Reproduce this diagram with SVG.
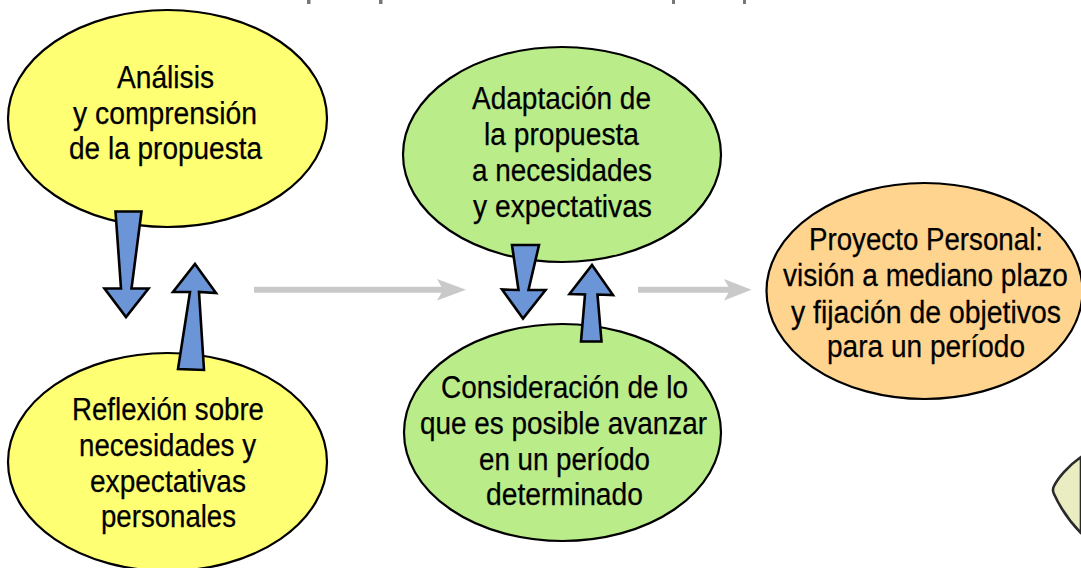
<svg xmlns="http://www.w3.org/2000/svg" width="1081" height="568" viewBox="0 0 1081 568">
<style>
.n{stroke:#000;stroke-width:2.2}
.y{fill:#ffff73}.g{fill:#bbec8a}.o{fill:#ffd48f}
.a{fill:#6b95d6;stroke:#000;stroke-width:2.6;stroke-linejoin:miter}
.s{fill:#c9c9ca}
.f{fill:#777}
text{font-family:"Liberation Sans",Arial,sans-serif;font-size:31px;fill:#000;stroke:#000;stroke-width:.25}
</style>
<rect width="1081" height="568" fill="#fff"/>
<g id="top-fragments">
<rect class="f" x="307" y="0" width="3.5" height="4"/>
<rect class="f" x="379" y="0" width="3.5" height="4"/>
<rect class="f" x="672" y="0" width="3" height="4"/>
<rect class="f" x="743" y="0" width="3" height="4"/>
</g>
<g id="corner-shape"><path d="M1081 457C1068 466 1058 478 1054 486Q1052 490 1054 494C1060 507 1070 522 1081 533Z" fill="#eaedc2" stroke="#2a2a2a" stroke-width="2.6"/></g>
<g id="node-analisis"><ellipse class="n y" cx="167.500" cy="118.500" rx="159.500" ry="108.500"/>
<text x="117" y="87.500" textLength="97" lengthAdjust="spacingAndGlyphs">Análisis</text>
<text x="73" y="123.500" textLength="184" lengthAdjust="spacingAndGlyphs">y comprensión</text>
<text x="69" y="159" textLength="193" lengthAdjust="spacingAndGlyphs">de la propuesta</text></g>
<g id="node-reflexion"><ellipse class="n y" cx="167.500" cy="462" rx="159.500" ry="109"/>
<text x="72" y="420" textLength="192" lengthAdjust="spacingAndGlyphs">Reflexión sobre</text>
<text x="79" y="456" textLength="177" lengthAdjust="spacingAndGlyphs">necesidades y</text>
<text x="90" y="492" textLength="156" lengthAdjust="spacingAndGlyphs">expectativas</text>
<text x="101" y="527" textLength="135" lengthAdjust="spacingAndGlyphs">personales</text></g>
<g id="node-adaptacion"><ellipse class="n g" cx="562" cy="154.500" rx="159" ry="107.500"/>
<text x="472" y="109" textLength="179" lengthAdjust="spacingAndGlyphs">Adaptación de</text>
<text x="484" y="145" textLength="155" lengthAdjust="spacingAndGlyphs">la propuesta</text>
<text x="472" y="181" textLength="180" lengthAdjust="spacingAndGlyphs">a necesidades</text>
<text x="473" y="217" textLength="179" lengthAdjust="spacingAndGlyphs">y expectativas</text></g>
<g id="node-consideracion"><ellipse class="n g" cx="562.500" cy="432.500" rx="158.500" ry="108.500"/>
<text x="441" y="398" textLength="247" lengthAdjust="spacingAndGlyphs">Consideración de lo</text>
<text x="420" y="434" textLength="287" lengthAdjust="spacingAndGlyphs">que es posible avanzar</text>
<text x="479" y="470" textLength="171" lengthAdjust="spacingAndGlyphs">en un período</text>
<text x="486" y="505" textLength="157" lengthAdjust="spacingAndGlyphs">determinado</text></g>
<g id="node-proyecto"><ellipse class="n o" cx="924.500" cy="291" rx="158" ry="108"/>
<text x="809" y="250" textLength="234" lengthAdjust="spacingAndGlyphs">Proyecto Personal:</text>
<text transform="translate(783 286) scale(.89 1)" textLength="320" lengthAdjust="spacingAndGlyphs">visión a mediano plazo</text>
<text transform="translate(791 322.500) scale(.89 1)" textLength="303.400" lengthAdjust="spacingAndGlyphs">y fijación de objetivos</text>
<text x="827" y="357" textLength="198" lengthAdjust="spacingAndGlyphs">para un período</text></g>
<g id="connectors">
<polygon class="a" points="115.500,211.500 141.500,211.500 131.500,288.500 148.500,288.500 126,317 104.500,288.500 121,288.500"/>
<polygon class="a" points="195,264 216,293 199,292 204,370 178,369 190,292 173,292"/>
<polygon class="a" points="512,245 539,245 528.500,290 545.500,290 523,318.500 502,289.500 518.500,290"/>
<polygon class="a" points="592,265 613,295 597.500,294.500 601.500,341.500 581,341.500 585,294.500 569.500,294"/>
<polygon class="s" points="254,286.800 441.500,286.800 437,279 466,289.800 437,300.500 441.500,292.800 254,292.800"/>
<polygon class="s" points="638,286.800 728.500,286.800 724,279 751.500,289.800 724,300.500 728.500,292.800 638,292.800"/>
</g>
</svg>
